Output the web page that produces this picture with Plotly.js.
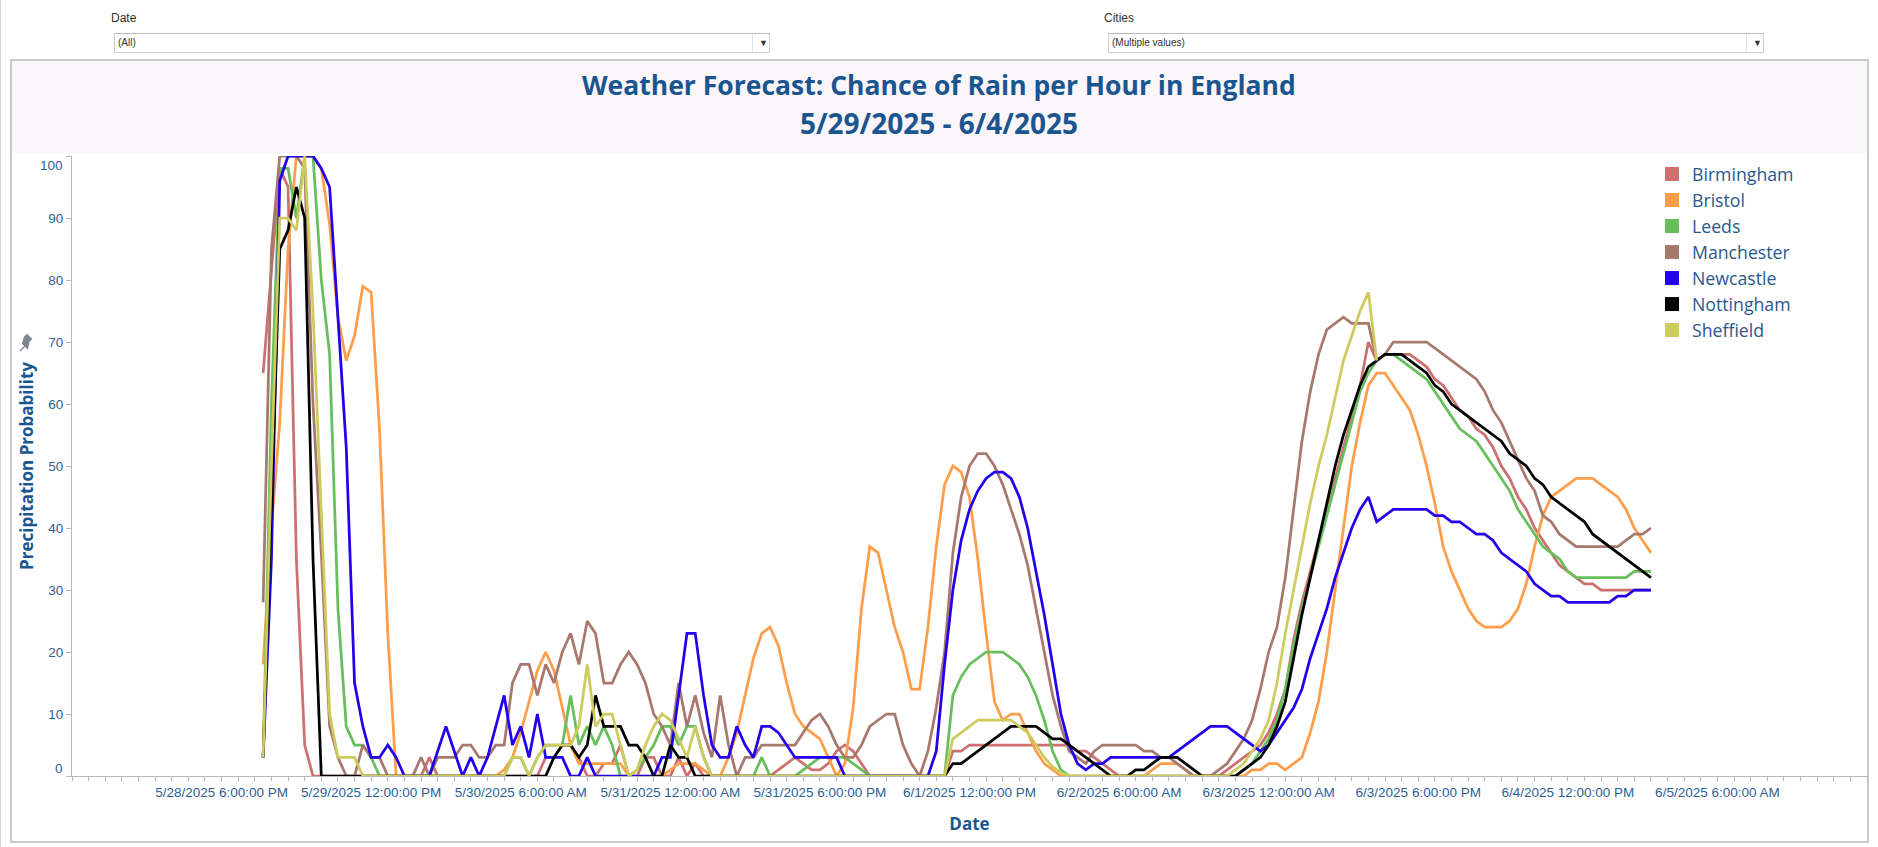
<!DOCTYPE html>
<html>
<head>
<meta charset="utf-8">
<script src="https://cdn.plot.ly/plotly-3.0.1.min.js"></script>
<style>
  html, body { margin:0; padding:0; background:#ffffff; width:1878px; height:847px; overflow:hidden; }
  #edge { position:absolute; left:0; top:0; width:1px; height:847px; background:#d9d9d9; }
  #frame { position:absolute; left:10px; top:59px; width:1855px; height:780px; border:2px solid #c9c9c9; background:#ffffff; }
  #band { position:absolute; left:12px; top:61px; width:1855px; height:92px; background:#faf6fa; }
  #chart { position:absolute; left:0; top:0; width:1878px; height:847px; }
  .flabel { position:absolute; font-family:"Liberation Sans", Arial, sans-serif; font-size:12px; color:#333333; }
  .fbox { position:absolute; height:18px; border:1px solid #cfcfcf; border-top-color:#b9b9b9; background:#fff;
          font-family:"Liberation Sans", Arial, sans-serif; font-size:10px; color:#333; line-height:18px; }
  .fbox .txt { position:absolute; left:3px; top:0; }
  .fbox .sep { position:absolute; top:0; width:1px; height:18px; background:#e3e3e3; }
  .fbox .arr { position:absolute; top:0; font-size:9px; color:#333; }
</style>
</head>
<body>
<div id="edge"></div>
<div id="frame"></div>
<div id="band"></div>
<div class="flabel" style="left:111px; top:11px;">Date</div>
<div class="fbox" style="left:114px; top:33px; width:654px;">
  <span class="txt">(All)</span><span class="sep" style="left:637px;"></span><span class="arr" style="left:644px;">&#9660;</span>
</div>
<div class="flabel" style="left:1104px; top:11px;">Cities</div>
<div class="fbox" style="left:1108px; top:33px; width:654px;">
  <span class="txt">(Multiple values)</span><span class="sep" style="left:637px;"></span><span class="arr" style="left:644px;">&#9660;</span>
</div>
<div id="chart"></div>
<script>
// ---------------- DATA (hourly, first hour 2025-05-28 23:00) ----------------
const cities = ['Birmingham','Bristol','Leeds','Manchester','Newcastle','Nottingham','Sheffield'];
const cityColors = ['#cf7070','#ff9e4a','#67bf5c','#a8786e','#2200ee','#000000','#cdcb5d'];
const firstHour = '2025-05-28T23:00:00Z';
const xTickValues = ['2025-05-28 18:00','2025-05-29 12:00','2025-05-30 06:00','2025-05-31 00:00',
  '2025-05-31 18:00','2025-06-01 12:00','2025-06-02 06:00','2025-06-03 00:00','2025-06-03 18:00',
  '2025-06-04 12:00','2025-06-05 06:00'];
const xTickLabelFormat = '%-m/%-d/%Y %-I:%M:%S %p';
const yTickValues = [0,10,20,30,40,50,60,70,80,90,100];

const birmingham = [
 65,81,98,95,35,5,0,0,0,0,0,0,
 0,0,0,0,0,0,0,0,3,0,0,0,
 0,0,0,0,0,0,0,0,0,0,3,3,
 5,5,3,0,0,2,2,5,0,0,3,3,
 0,0,3,0,2,0,0,0,0,0,0,0,
 0,0,1,2,3,2,1,1,2,4,5,4,
 2,0,0,0,0,0,0,0,0,0,0,4,
 4,5,5,5,5,5,5,5,5,5,5,5,
 5,5,4,4,3,2,1,0,0,0,0,0,
 0,0,0,0,0,0,0,0,1,2,3,4,
 5,7,10,14,22,28,33,38,43,48,53,58,
 63,70,67,68,68,68,68,67,66,64,63,61,
 59,58,56,55,53,50,48,45,43,40,38,36,
 34,33,32,31,31,30,30,30,30,30,30,30];

const bristol = [
 18,40,57,85,100,100,100,98,89,74,67,71,
 79,78,56,23,0,0,0,0,0,0,0,0,
 0,0,0,0,0,1,3,7,12,17,20,17,
 11,5,2,2,2,2,2,2,0,0,0,0,
 0,1,2,2,2,1,0,0,3,7,13,19,
 23,24,21,15,10,8,7,6,3,0,2,11,
 27,37,36,30,24,20,14,14,24,37,47,50,
 49,45,35,23,12,9,10,10,7,4,2,1,
 0,0,0,0,0,0,0,0,0,0,0,1,
 2,2,2,1,0,0,0,0,0,0,0,1,
 1,2,2,1,2,3,7,12,20,30,40,50,
 57,63,65,65,63,61,59,55,50,44,37,33,
 30,27,25,24,24,24,25,27,31,37,42,45,
 46,47,48,48,48,47,46,45,43,40,38,36];

const leeds = [
 3,60,98,98,90,100,100,80,68,27,8,5,
 5,3,0,0,0,0,0,0,0,0,0,0,
 0,0,0,0,0,0,3,3,0,3,5,5,
 5,13,5,8,5,8,5,0,0,1,3,5,
 8,8,5,8,8,3,0,0,0,0,0,0,
 3,0,0,0,0,1,2,3,3,3,3,2,
 1,0,0,0,0,0,0,0,0,0,0,13,
 16,18,19,20,20,20,19,18,16,13,9,4,
 1,0,0,0,0,0,0,0,0,0,0,0,
 0,0,0,0,0,0,0,0,0,0,1,2,
 4,6,9,14,21,27,32,37,42,47,52,57,
 62,65,67,68,68,67,66,65,64,62,60,58,
 56,55,54,52,50,48,46,43,41,39,37,36,
 35,33,32,32,32,32,32,32,32,33,33,33];

const manchester = [
 28,85,100,100,100,98,60,36,8,3,0,0,
 5,3,3,0,0,0,0,3,0,3,3,3,
 5,5,3,3,5,5,15,18,18,13,18,15,
 20,23,18,25,23,15,15,18,20,18,15,10,
 8,5,15,8,13,7,3,13,5,0,3,3,
 5,5,5,5,5,7,9,10,8,5,3,3,
 5,8,9,10,10,5,2,0,4,11,20,36,
 45,50,52,52,50,47,43,39,34,27,20,13,
 8,4,3,2,4,5,5,5,5,5,4,4,
 3,3,2,1,0,0,0,1,2,4,6,9,
 14,20,24,32,43,54,62,68,72,73,74,73,
 73,73,67,68,70,70,70,70,70,69,68,67,
 66,65,64,62,59,57,54,51,48,46,42,41,
 39,38,37,37,37,37,37,37,38,39,39,40];

const newcastle = [
 3,35,96,100,100,100,100,98,95,74,53,15,
 8,3,3,5,3,0,0,0,0,4,8,4,
 0,3,0,3,8,13,5,8,3,10,3,3,
 3,0,0,3,0,0,0,0,0,0,0,0,
 3,3,13,23,23,13,5,3,3,8,5,3,
 8,8,7,5,3,3,3,3,3,3,0,0,
 0,0,0,0,0,0,0,0,0,4,18,30,
 38,43,46,48,49,49,48,45,40,33,26,18,
 10,5,2,1,2,2,3,3,3,3,3,3,
 3,3,4,5,6,7,8,8,8,7,6,5,
 4,5,7,9,11,14,19,23,27,32,36,40,
 43,45,41,42,43,43,43,43,43,42,42,41,
 41,40,39,39,38,36,35,34,33,31,30,29,
 29,28,28,28,28,28,28,29,29,30,30,30];

const nottingham = [
 3,45,85,88,95,90,35,0,0,0,0,0,
 0,0,0,0,0,0,0,0,0,0,0,0,
 0,0,0,0,0,0,0,0,0,0,0,3,
 5,5,3,5,13,8,8,8,5,5,3,0,
 0,5,3,3,0,0,0,0,0,0,0,0,
 0,0,0,0,0,0,0,0,0,0,0,0,
 0,0,0,0,0,0,0,0,0,0,0,2,
 2,3,4,5,6,7,8,8,8,8,7,6,
 6,5,4,3,2,1,0,0,0,1,1,2,
 3,3,3,2,1,0,0,0,0,0,1,2,
 3,5,8,12,19,26,32,38,44,50,55,59,
 63,66,67,68,68,68,67,66,65,63,62,60,
 59,58,57,56,55,54,52,51,50,48,47,45,
 44,43,42,41,39,38,37,36,35,34,33,32];

const sheffield = [
 3,50,90,90,88,100,75,41,10,3,3,3,
 0,0,0,0,0,0,0,0,0,0,0,0,
 0,0,0,0,0,0,3,3,0,3,5,5,
 5,5,8,18,8,10,10,5,0,1,5,8,
 10,9,6,3,8,3,0,0,0,0,0,0,
 0,0,0,0,0,0,0,0,0,0,0,0,
 0,0,0,0,0,0,0,0,0,0,0,6,
 7,8,9,9,9,9,9,8,7,5,3,1.5,
 0.5,0,0,0,0,0,0,0,0,0,0,0,
 0,0,0,0,0,0,0,0,0,1,2,4,
 6,9,15,23,30,37,44,50,55,61,67,71,
 75,78,67];

const seriesValues = [birmingham, bristol, leeds, manchester, newcastle, nottingham, sheffield];

// ---------------- BUILD ----------------
function hourStamp(i) {
  const d = new Date(Date.parse(firstHour) + i * 3600000);
  return d.toISOString().slice(0,19).replace('T',' ');
}
const W = 1878, H = 847, ML = 72, MR = 11, MT = 156, MB = 71;
const PW = W - ML - MR, PH = H - MT - MB;
const pxX = x => (x - ML) / PW;
const pxY = y => (MT + PH - y) / PH;

const TICK = '#2d5f96';
const TITLE = '#1b5590';
const AXIS = '#b7b7b7';
const TICKFONT = { family: 'Liberation Sans, Arial, sans-serif', size: 13.5, color: TICK };

const traces = [];
seriesValues.forEach((vals, k) => {
  traces.push({
    type: 'scatter', mode: 'lines', name: cities[k],
    x: vals.map((v, i) => hourStamp(i)), y: vals,
    line: { color: cityColors[k], width: 2.75 },
    showlegend: false, hoverinfo: 'skip'
  });
});
cities.forEach((c, k) => {
  traces.push({
    type: 'scatter', mode: 'markers', name: c,
    x: [null], y: [null],
    marker: { symbol: 'square', size: 14, color: cityColors[k] },
    showlegend: true
  });
});

const pin = (() => {
  const P = (x, y) => pxX(x).toFixed(5) + ',' + pxY(y).toFixed(5);
  return 'M' + P(20,351) + 'L' + P(24.5,346.5) + 'M' + P(22.5,343.5) + 'L' + P(27.5,348.5) +
         'L' + P(29,341.5) + 'L' + P(31.5,339) + 'L' + P(27,334.5) + 'L' + P(24.5,337) + 'Z';
})();

const layout = {
  width: W, height: H,
  margin: { l: ML, r: MR, t: MT, b: MB, pad: 0 },
  paper_bgcolor: 'rgba(0,0,0,0)', plot_bgcolor: 'rgba(0,0,0,0)',
  showlegend: true,
  legend: {
    x: pxX(1652), y: pxY(156), xanchor: 'left', yanchor: 'top',
    bgcolor: 'rgba(0,0,0,0)', borderwidth: 0,
    font: { family: 'Open Sans, Noto Sans, sans-serif', size: 17.7, color: '#27598c' },
    itemclick: false, itemdoubleclick: false
  },
  xaxis: {
    type: 'date',
    range: ['2025-05-28 00:00:00', '2025-06-06 00:00:00'],
    tickmode: 'array', tickvals: xTickValues,
    tickformat: xTickLabelFormat,
    ticks: 'outside', ticklen: 4, tickcolor: AXIS, tickwidth: 1,
    minor: { tickmode: 'linear', tick0: '2025-05-28 00:00:00', dtick: 2 * 3600000, ticks: 'outside',
             ticklen: 4, tickcolor: AXIS, tickwidth: 1, showgrid: false },
    showline: true, linecolor: AXIS, linewidth: 1,
    showgrid: false, zeroline: false,
    tickfont: TICKFONT,
    title: { text: '<b>Date</b>', font: { family: 'Open Sans, Noto Sans, sans-serif', size: 17, color: TITLE }, standoff: 18 }
  },
  yaxis: {
    range: [0, 100],
    tickmode: 'array', tickvals: yTickValues,
    ticktext: yTickValues.map(v => (v === 0 || v === 100) ? '' : String(v)),
    ticks: 'outside', ticklen: 5, tickcolor: AXIS, tickwidth: 1,
    showline: true, linecolor: AXIS, linewidth: 1,
    showgrid: false, zeroline: false,
    tickfont: TICKFONT,
    title: { text: '<b>Precipitation Probability</b>', font: { family: 'Open Sans, Noto Sans, sans-serif', size: 17, color: TITLE }, standoff: 10 }
  },
  annotations: [
    { text: '<b>Weather Forecast: Chance of Rain per Hour in England</b>', xref: 'paper', yref: 'paper',
      x: pxX(939), y: pxY(85), xanchor: 'center', yanchor: 'middle', showarrow: false,
      font: { family: 'Open Sans, Noto Sans, sans-serif', size: 26.5, color: TITLE } },
    { text: '<b>5/29/2025 - 6/4/2025</b>', xref: 'paper', yref: 'paper',
      x: pxX(939), y: pxY(123), xanchor: 'center', yanchor: 'middle', showarrow: false,
      font: { family: 'Open Sans, Noto Sans, sans-serif', size: 28, color: TITLE } },
    { text: '0', xref: 'paper', yref: 'y', x: 0, y: 0, xanchor: 'right', yanchor: 'middle',
      xshift: -7, yshift: 8, showarrow: false, font: TICKFONT },
    { text: '100', xref: 'paper', yref: 'y', x: 0, y: 100, xanchor: 'right', yanchor: 'middle',
      xshift: -7, yshift: -9, showarrow: false, font: TICKFONT }
  ],
  shapes: [
    { type: 'path', xref: 'paper', yref: 'paper', path: pin, fillcolor: '#7f8790',
      line: { color: '#7f8790', width: 1.2 } }
  ]
};

Plotly.newPlot('chart', traces, layout, { displayModeBar: false, staticPlot: true });
</script>
</body>
</html>
